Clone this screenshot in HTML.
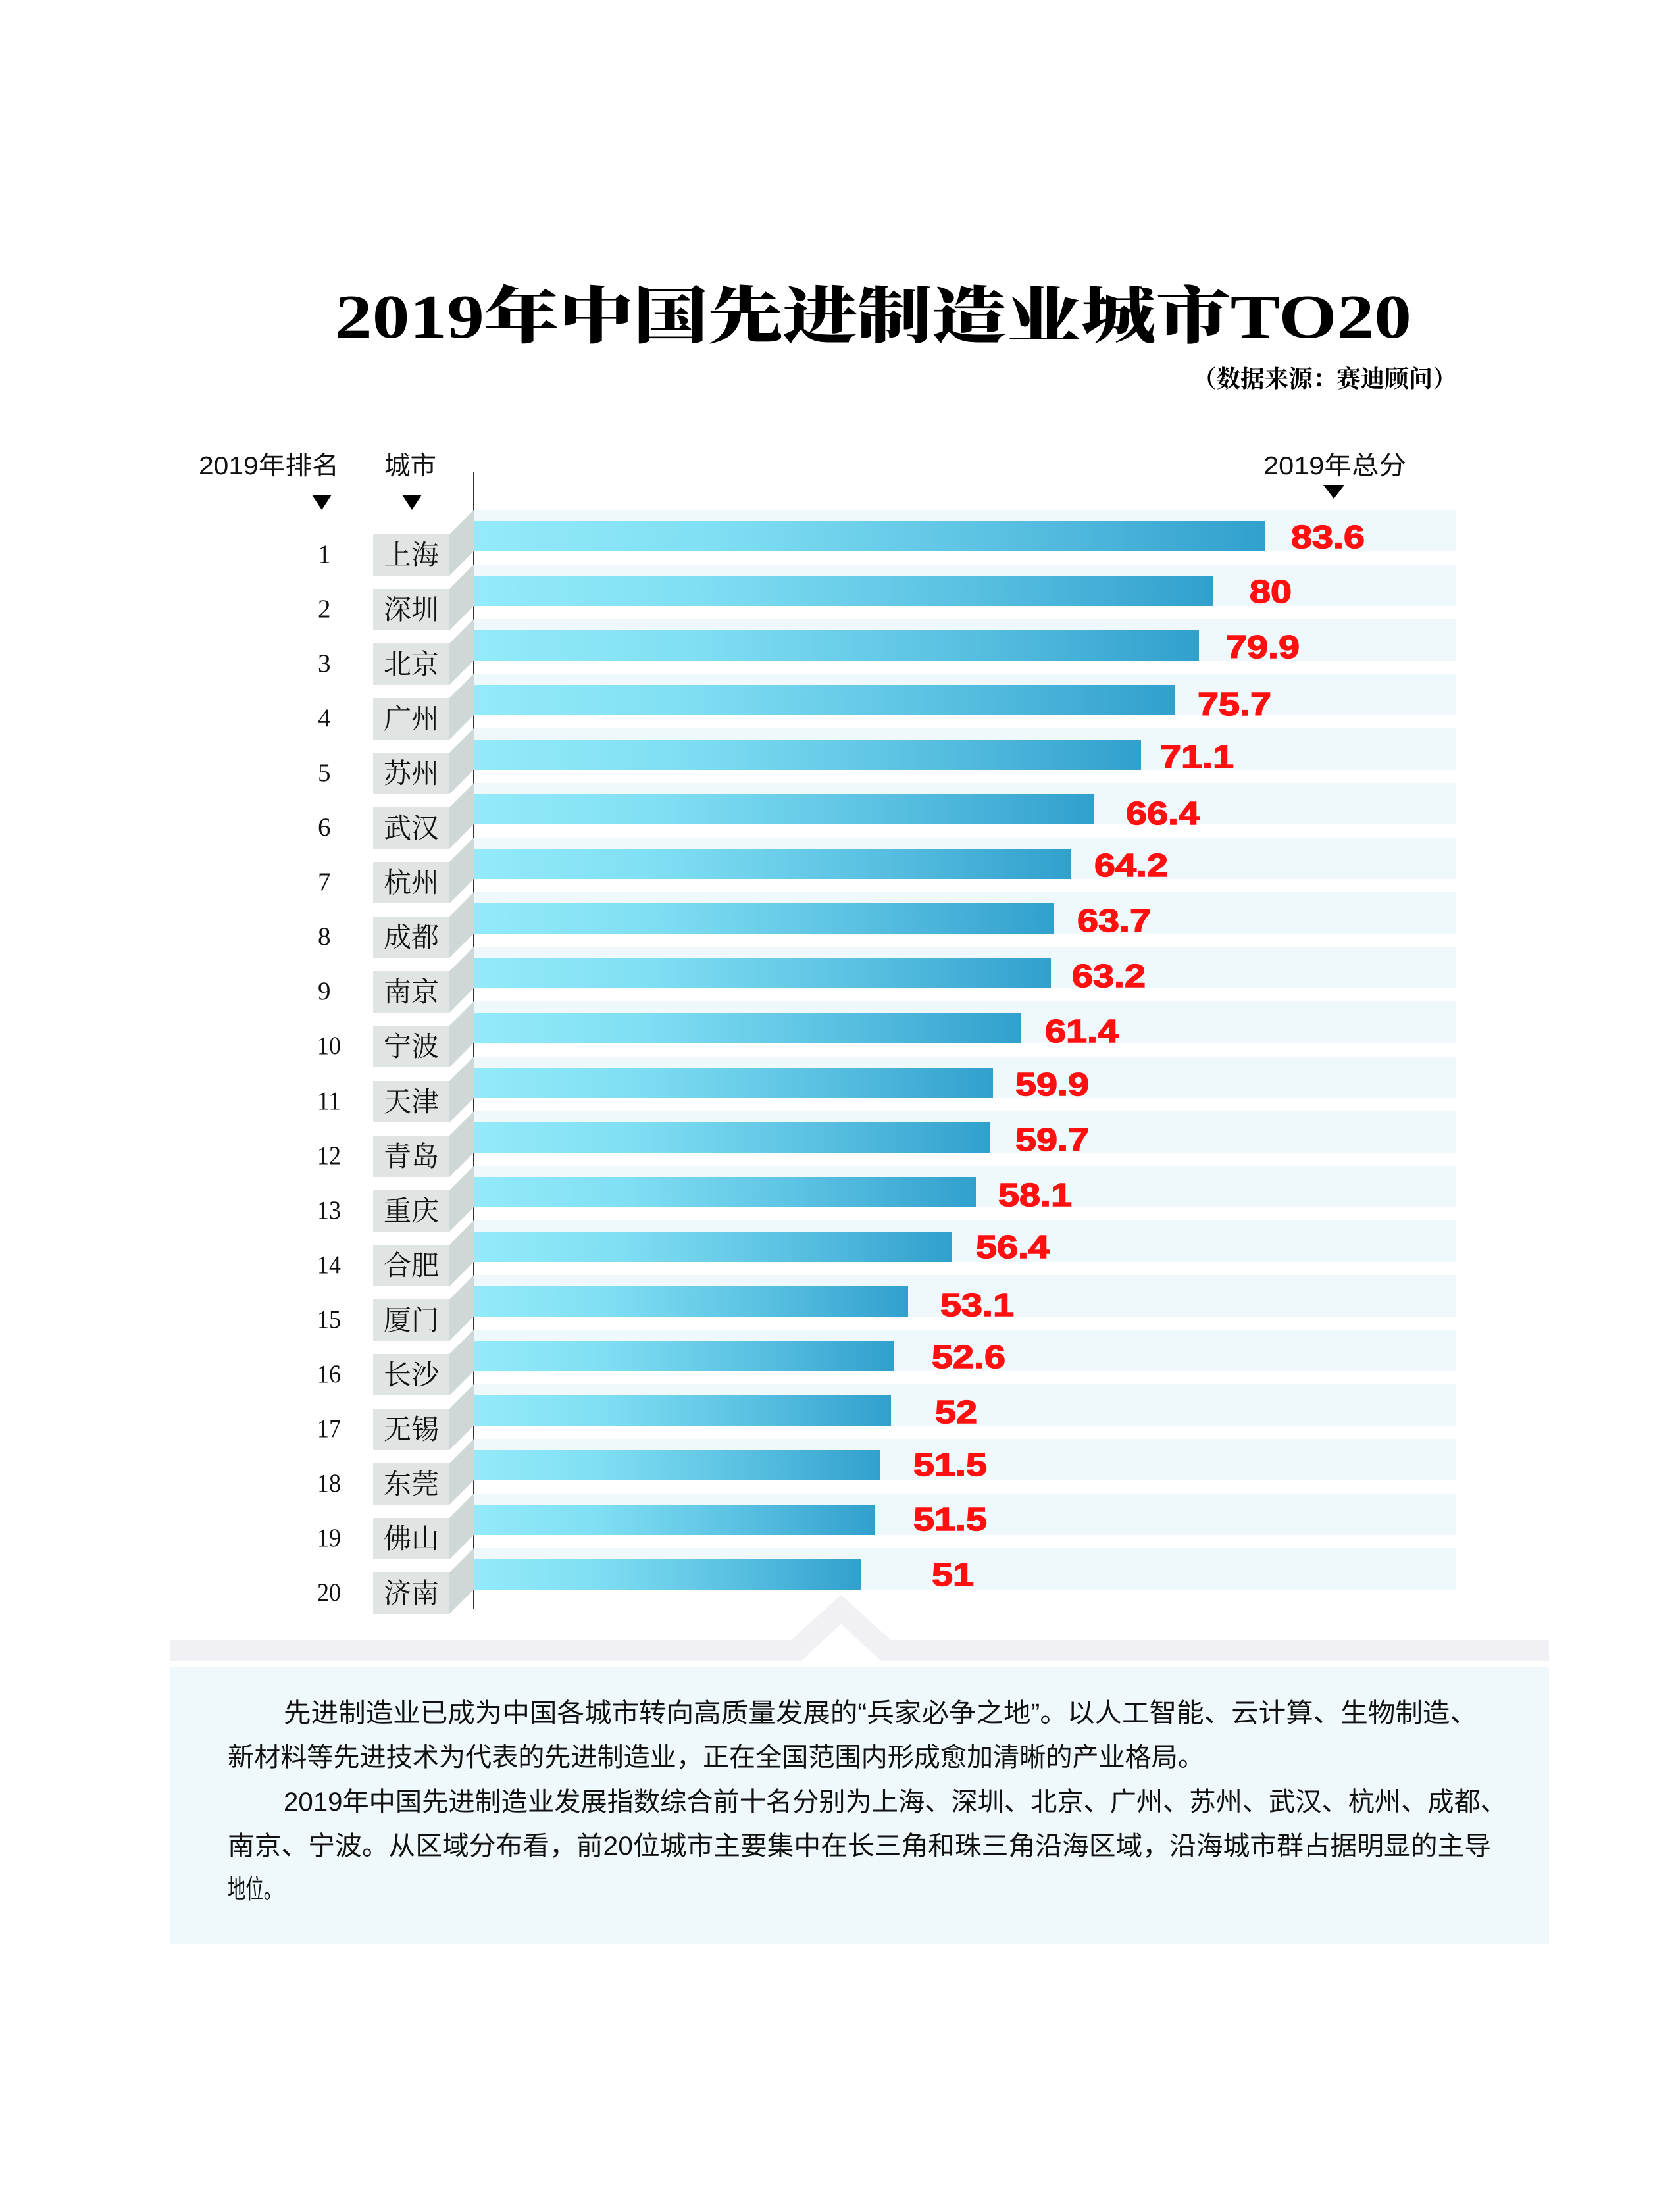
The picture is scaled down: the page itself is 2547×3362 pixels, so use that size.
<!DOCTYPE html>
<html><head><meta charset="utf-8"><style>
html,body{margin:0;padding:0;background:#fff;}
svg{display:block;}
.c{font-family:'Liberation Serif','Noto Serif CJK SC',serif;font-size:42px;fill:#111;}
.n{font-family:'Liberation Serif',serif;font-size:39px;fill:#111;}
.v{font-family:'Liberation Sans',sans-serif;font-weight:700;font-size:49px;fill:#ff1010;stroke:#ff1010;stroke-width:1.5px;}
</style></head><body>
<svg width="2547" height="3362" viewBox="0 0 2547 3362" xmlns="http://www.w3.org/2000/svg">
<defs>
<linearGradient id="g" x1="0" y1="0" x2="1" y2="0">
<stop offset="0" stop-color="#93eafa"/>
<stop offset="0.3" stop-color="#80dff3"/>
<stop offset="0.65" stop-color="#5cc2e3"/>
<stop offset="1" stop-color="#31a0cd"/>
</linearGradient>
<g id="box">
<rect x="721" y="0" width="1492" height="63" fill="#eff8fb"/>
<polygon points="683,37 720,0 720,63 683,100" fill="#cfd8d6"/>
<rect x="567" y="37" width="116" height="63" fill="#e0e5e4"/>
</g>
</defs>
<rect width="2547" height="3362" fill="#fff"/>
<text x="509" y="513" font-family="'Liberation Serif','Noto Serif CJK SC',serif" font-weight="900" font-size="94" fill="#000" textLength="1636" lengthAdjust="spacingAndGlyphs">2019年中国先进制造业城市TO20</text>
<text x="1812" y="588" font-family="'Liberation Serif','Noto Serif CJK SC',serif" font-weight="700" font-size="36" fill="#000" textLength="402" lengthAdjust="spacingAndGlyphs">（数据来源：赛迪顾问）</text>
<g font-family="'Liberation Sans','Noto Sans CJK SC',sans-serif" font-size="39" fill="#111">
<text x="302" y="721" textLength="213" lengthAdjust="spacingAndGlyphs">2019年排名</text>
<text x="584" y="721" textLength="79" lengthAdjust="spacingAndGlyphs">城市</text>
<text x="1920" y="721" textLength="217" lengthAdjust="spacingAndGlyphs">2019年总分</text>
</g>
<polygon points="474,752 504,752 489,775" fill="#000"/>
<polygon points="611,752 641,752 626,775" fill="#000"/>
<polygon points="2011,737 2043,737 2027,758" fill="#000"/>
<line x1="720" y1="717" x2="720" y2="2446" stroke="#333" stroke-width="2"/>

<g transform="translate(0,775)"><use href="#box"/><rect x="721" y="17" width="1202" height="46" fill="url(#g)"/><text class="c" x="625" y="83" text-anchor="middle">上海</text><text class="n" x="483" y="80">1</text><text class="v" x="1962" y="58" textLength="112" lengthAdjust="spacingAndGlyphs">83.6</text></g>
<g transform="translate(0,858)"><use href="#box"/><rect x="721" y="17" width="1122" height="46" fill="url(#g)"/><text class="c" x="625" y="83" text-anchor="middle">深圳</text><text class="n" x="483" y="80">2</text><text class="v" x="1899" y="58" textLength="64" lengthAdjust="spacingAndGlyphs">80</text></g>
<g transform="translate(0,941)"><use href="#box"/><rect x="721" y="17" width="1101" height="46" fill="url(#g)"/><text class="c" x="625" y="83" text-anchor="middle">北京</text><text class="n" x="483" y="80">3</text><text class="v" x="1863" y="59" textLength="112" lengthAdjust="spacingAndGlyphs">79.9</text></g>
<g transform="translate(0,1024)"><use href="#box"/><rect x="721" y="17" width="1064" height="46" fill="url(#g)"/><text class="c" x="625" y="83" text-anchor="middle">广州</text><text class="n" x="483" y="80">4</text><text class="v" x="1820" y="63" textLength="112" lengthAdjust="spacingAndGlyphs">75.7</text></g>
<g transform="translate(0,1107)"><use href="#box"/><rect x="721" y="17" width="1013" height="46" fill="url(#g)"/><text class="c" x="625" y="83" text-anchor="middle">苏州</text><text class="n" x="483" y="80">5</text><text class="v" x="1763" y="60" textLength="112" lengthAdjust="spacingAndGlyphs">71.1</text></g>
<g transform="translate(0,1190)"><use href="#box"/><rect x="721" y="17" width="942" height="46" fill="url(#g)"/><text class="c" x="625" y="83" text-anchor="middle">武汉</text><text class="n" x="483" y="80">6</text><text class="v" x="1711" y="63" textLength="112" lengthAdjust="spacingAndGlyphs">66.4</text></g>
<g transform="translate(0,1273)"><use href="#box"/><rect x="721" y="17" width="906" height="46" fill="url(#g)"/><text class="c" x="625" y="83" text-anchor="middle">杭州</text><text class="n" x="483" y="80">7</text><text class="v" x="1663" y="59" textLength="112" lengthAdjust="spacingAndGlyphs">64.2</text></g>
<g transform="translate(0,1356)"><use href="#box"/><rect x="721" y="17" width="880" height="46" fill="url(#g)"/><text class="c" x="625" y="83" text-anchor="middle">成都</text><text class="n" x="483" y="80">8</text><text class="v" x="1637" y="60" textLength="112" lengthAdjust="spacingAndGlyphs">63.7</text></g>
<g transform="translate(0,1439)"><use href="#box"/><rect x="721" y="17" width="876" height="46" fill="url(#g)"/><text class="c" x="625" y="83" text-anchor="middle">南京</text><text class="n" x="483" y="80">9</text><text class="v" x="1629" y="61" textLength="112" lengthAdjust="spacingAndGlyphs">63.2</text></g>
<g transform="translate(0,1522)"><use href="#box"/><rect x="721" y="17" width="831" height="46" fill="url(#g)"/><text class="c" x="625" y="83" text-anchor="middle">宁波</text><text class="n" x="482" y="80" textLength="36" lengthAdjust="spacingAndGlyphs">10</text><text class="v" x="1588" y="62" textLength="112" lengthAdjust="spacingAndGlyphs">61.4</text></g>
<g transform="translate(0,1606)"><use href="#box"/><rect x="721" y="17" width="788" height="46" fill="url(#g)"/><text class="c" x="625" y="83" text-anchor="middle">天津</text><text class="n" x="482" y="80" textLength="36" lengthAdjust="spacingAndGlyphs">11</text><text class="v" x="1543" y="59" textLength="112" lengthAdjust="spacingAndGlyphs">59.9</text></g>
<g transform="translate(0,1689)"><use href="#box"/><rect x="721" y="17" width="783" height="46" fill="url(#g)"/><text class="c" x="625" y="83" text-anchor="middle">青岛</text><text class="n" x="482" y="80" textLength="36" lengthAdjust="spacingAndGlyphs">12</text><text class="v" x="1543" y="60" textLength="112" lengthAdjust="spacingAndGlyphs">59.7</text></g>
<g transform="translate(0,1772)"><use href="#box"/><rect x="721" y="17" width="762" height="46" fill="url(#g)"/><text class="c" x="625" y="83" text-anchor="middle">重庆</text><text class="n" x="482" y="80" textLength="36" lengthAdjust="spacingAndGlyphs">13</text><text class="v" x="1517" y="61" textLength="112" lengthAdjust="spacingAndGlyphs">58.1</text></g>
<g transform="translate(0,1855)"><use href="#box"/><rect x="721" y="17" width="725" height="46" fill="url(#g)"/><text class="c" x="625" y="83" text-anchor="middle">合肥</text><text class="n" x="482" y="80" textLength="36" lengthAdjust="spacingAndGlyphs">14</text><text class="v" x="1483" y="57" textLength="112" lengthAdjust="spacingAndGlyphs">56.4</text></g>
<g transform="translate(0,1938)"><use href="#box"/><rect x="721" y="17" width="659" height="46" fill="url(#g)"/><text class="c" x="625" y="83" text-anchor="middle">厦门</text><text class="n" x="482" y="80" textLength="36" lengthAdjust="spacingAndGlyphs">15</text><text class="v" x="1429" y="62" textLength="112" lengthAdjust="spacingAndGlyphs">53.1</text></g>
<g transform="translate(0,2021)"><use href="#box"/><rect x="721" y="17" width="637" height="46" fill="url(#g)"/><text class="c" x="625" y="83" text-anchor="middle">长沙</text><text class="n" x="482" y="80" textLength="36" lengthAdjust="spacingAndGlyphs">16</text><text class="v" x="1416" y="58" textLength="112" lengthAdjust="spacingAndGlyphs">52.6</text></g>
<g transform="translate(0,2104)"><use href="#box"/><rect x="721" y="17" width="633" height="46" fill="url(#g)"/><text class="c" x="625" y="83" text-anchor="middle">无锡</text><text class="n" x="482" y="80" textLength="36" lengthAdjust="spacingAndGlyphs">17</text><text class="v" x="1421" y="59" textLength="64" lengthAdjust="spacingAndGlyphs">52</text></g>
<g transform="translate(0,2187)"><use href="#box"/><rect x="721" y="17" width="616" height="46" fill="url(#g)"/><text class="c" x="625" y="83" text-anchor="middle">东莞</text><text class="n" x="482" y="80" textLength="36" lengthAdjust="spacingAndGlyphs">18</text><text class="v" x="1388" y="56" textLength="112" lengthAdjust="spacingAndGlyphs">51.5</text></g>
<g transform="translate(0,2270)"><use href="#box"/><rect x="721" y="17" width="608" height="46" fill="url(#g)"/><text class="c" x="625" y="83" text-anchor="middle">佛山</text><text class="n" x="482" y="80" textLength="36" lengthAdjust="spacingAndGlyphs">19</text><text class="v" x="1388" y="56" textLength="112" lengthAdjust="spacingAndGlyphs">51.5</text></g>
<g transform="translate(0,2353)"><use href="#box"/><rect x="721" y="17" width="588" height="46" fill="url(#g)"/><text class="c" x="625" y="83" text-anchor="middle">济南</text><text class="n" x="482" y="80" textLength="36" lengthAdjust="spacingAndGlyphs">20</text><text class="v" x="1416" y="57" textLength="64" lengthAdjust="spacingAndGlyphs">51</text></g>

<polygon points="258,2492 1203,2492 1278,2424 1353,2492 2354,2492 2354,2525 1339,2525 1278,2468 1217,2525 258,2525" fill="#f0f0f5"/>
<rect x="258" y="2533" width="2096" height="422" fill="#eff8fb"/>
<g font-family="'Liberation Sans','Noto Sans CJK SC',sans-serif" font-size="40" fill="#111">
<text x="431" y="2617" textLength="1814" lengthAdjust="spacingAndGlyphs">先进制造业已成为中国各城市转向高质量发展的“兵家必争之地”。以人工智能、云计算、生物制造、</text>
<text x="346" y="2684" textLength="1484" lengthAdjust="spacingAndGlyphs">新材料等先进技术为代表的先进制造业，正在全国范围内形成愈加清晰的产业格局。</text>
<text x="431" y="2752" textLength="1859" lengthAdjust="spacingAndGlyphs">2019年中国先进制造业发展指数综合前十名分别为上海、深圳、北京、广州、苏州、武汉、杭州、成都、</text>
<text x="346" y="2819" textLength="1920" lengthAdjust="spacingAndGlyphs">南京、宁波。从区域分布看，前20位城市主要集中在长三角和珠三角沿海区域，沿海城市群占据明显的主导</text>
<text x="346" y="2885" textLength="82" lengthAdjust="spacingAndGlyphs">地位。</text>
</g>
</svg>
</body></html>
